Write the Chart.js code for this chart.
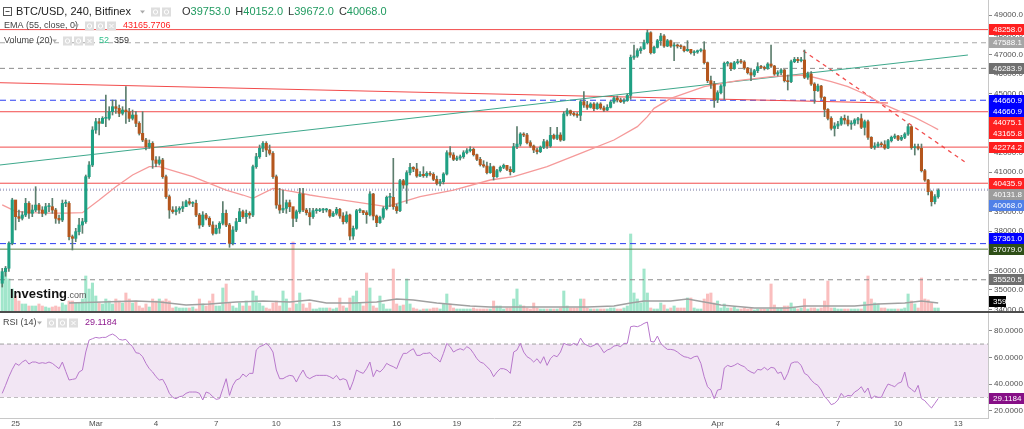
<!DOCTYPE html>
<html>
<head>
<meta charset="utf-8">
<title>BTC/USD, 240, Bitfinex</title>
<script src="https://cdn.jsdelivr.net/npm/chart.js@4.4.1/dist/chart.umd.min.js"></script>
<style>
    html, body { margin: 0; padding: 0; background: #ffffff; }
    #wrap { position: relative; width: 1024px; height: 429px; overflow: hidden; background: #ffffff; }
    #priceChart { position: absolute; left: 0; top: 0; }
    #rsiChart { position: absolute; left: 0; top: 311px; }
</style>
</head>
<body>
<div id="wrap">
    <canvas id="priceChart" width="1024" height="311"></canvas>
    <canvas id="rsiChart" width="1024" height="118"></canvas>
</div>
<script>
const FONT = '"Liberation Sans", Arial, sans-serif';

// x axis: one step per 4h candle, labels on day starts
const dayTickIndex = [4, 28, 46, 64, 82, 100, 118, 136, 154, 172, 190, 214, 232, 250, 268, 286];
const dayTickLabels = ['25', 'Mar', '4', '7', '10', '13', '16', '19', '22', '25', '28', 'Apr', '4', '7', '10', '13'];

// candles (4h), open of each candle = previous close
const firstOpen = 35343;
const closes = [
    35933, 36107, 37380, 39583, 38733, 38648, 38818, 39411, 38903, 39072,
    39326, 39072, 38903, 39242, 39242, 39072, 38648, 38563, 39411, 39411,
    37714, 37630, 37969, 38308, 38478, 40769, 41363, 43145, 43569, 43484,
    43739, 43739, 44078, 44333, 44248, 43994, 44163, 44078, 43739, 43909,
    43484, 42975, 42636, 42296, 42466, 41618, 41448, 41618, 40769, 39751,
    39072, 38988, 39072, 39157, 39242, 39496, 39411, 39411, 38818, 38308,
    38818, 38648, 38308, 37884, 38139, 38393, 38903, 38308, 37375, 38054,
    38478, 38988, 38733, 38903, 38818, 41278, 41788, 42212, 42466, 42127,
    41957, 40769, 39326, 39072, 39157, 39446, 39242, 38648, 38988, 39887,
    39072, 38937, 38733, 39038, 39038, 39072, 39072, 39072, 38767, 38903,
    39106, 38767, 38478, 38818, 37748, 38139, 39038, 39038, 38937, 38835,
    39887, 38767, 38427, 38699, 39140, 39717, 39717, 39242, 39038, 40566,
    40345, 40973, 41244, 41159, 40803, 40888, 40820, 40939, 40888, 40633,
    40430, 40515, 40905, 41991, 41872, 41652, 41720, 41788, 41991, 42093,
    42161, 41889, 41652, 41380, 41312, 40973, 41278, 40769, 41075, 41244,
    41346, 41142, 41024, 42296, 42432, 42941, 42890, 42500, 42330, 42127,
    42042, 42263, 42551, 42330, 42873, 42721, 42890, 42636, 43960, 44129,
    43994, 43926, 43892, 44587, 44418, 44299, 44469, 44231, 44469, 44265,
    44163, 44299, 44570, 44774, 44672, 44587, 44638, 44910, 46844, 46912,
    47184, 47286, 47591, 48100, 47082, 47353, 47693, 47930, 47421, 47693,
    47421, 47472, 47421, 47387, 47184, 47252, 47082, 47116, 47184, 47218,
    46573, 45656, 45487, 44672, 45046, 45385, 46539, 46539, 46267, 46573,
    46624, 46607, 46301, 46064, 45945, 46166, 46369, 46335, 46284, 46505,
    46403, 45996, 46064, 46200, 45656, 45606, 46624, 46743, 46675, 46709,
    45826, 45996, 45487, 45147, 45385, 44808, 44197, 43739, 43230, 43348,
    43450, 43739, 43654, 43450, 43484, 43654, 43722, 43281, 43569, 42772,
    42263, 42330, 42432, 42398, 42229, 42602, 42772, 42839, 42670, 42772,
    42941, 43315, 42245, 42296, 42212, 41075, 40600, 40006, 39496, 39753,
    40068
];
const highs = [
    36100, 36200, 37450, 39670, 39500, 39072, 38988, 39666, 39496, 39326,
    40260, 39411, 39242, 39411, 39411, 39666, 39157, 38818, 39581, 39581,
    39496, 37799, 38139, 38648, 38648, 40854, 41533, 43315, 43739, 43739,
    43824, 44927, 44333, 44672, 44672, 44418, 44333, 45351, 44248, 44163,
    44078, 43569, 44078, 42721, 42636, 42551, 41788, 41788, 41703, 40854,
    39836, 39242, 39242, 39242, 39496, 39581, 39666, 39496, 39581, 38903,
    38988, 38903, 38733, 38478, 38308, 38478, 39496, 39072, 38393, 38224,
    38648, 39157, 39072, 39072, 38988, 41363, 41957, 42381, 42551, 42551,
    42381, 42042, 40854, 40175, 40090, 39581, 39581, 39157, 39072, 40175,
    40175, 39157, 39157, 39157, 39157, 39157, 39157, 39157, 39106, 38988,
    39208, 39157, 38937, 38988, 38868, 38258, 39106, 39140, 39038, 39038,
    40006, 39921, 38818, 38767, 39242, 39785, 39921, 41703, 39377, 40633,
    40633, 41075, 41448, 41278, 41448, 41024, 41278, 41024, 41024, 40973,
    40803, 40633, 40973, 42093, 42296, 41991, 41821, 41872, 42093, 42195,
    42296, 42229, 41923, 41754, 41584, 41516, 41448, 41312, 41142, 41312,
    41414, 41346, 41278, 42466, 43315, 43009, 43009, 42975, 42602, 42381,
    42229, 42330, 42670, 42636, 43281, 42941, 43281, 43009, 44078, 44231,
    44163, 44061, 44027, 44672, 45096, 44604, 44536, 44536, 44536, 44536,
    44367, 44435, 44638, 44842, 44876, 44774, 44740, 44978, 46963, 47472,
    47286, 47387, 47727, 48236, 48150, 47421, 47761, 48066, 47998, 47761,
    47727, 47591, 47523, 47489, 47421, 47693, 47252, 47184, 47218, 47286,
    47642, 46607, 45894, 45623, 45147, 45453, 46607, 46641, 46573, 46641,
    46743, 46743, 46675, 46335, 46233, 46233, 46573, 46437, 46403, 46573,
    47472, 46437, 46166, 46267, 46233, 45945, 46709, 46844, 46844, 46844,
    47218, 46098, 46115, 45555, 45487, 45419, 44842, 44231, 43824, 43518,
    43586, 43824, 43909, 43858, 43620, 43722, 43790, 43960, 43654, 43654,
    42806, 42500, 42534, 42534, 42602, 42670, 42839, 42941, 42873, 42873,
    43009, 43450, 43348, 42432, 42432, 42432, 41142, 40633, 40056, 39853,
    40152
];
const lows = [
    35150, 35700, 35950, 37300, 38057, 38478, 38563, 38733, 38648, 38733,
    38988, 38903, 38733, 38818, 38988, 38903, 38393, 38393, 38478, 39242,
    37545, 37036, 37460, 37799, 37884, 38393, 40684, 41278, 42975, 42890,
    43484, 43315, 43654, 43909, 43994, 43824, 43909, 43484, 43569, 43654,
    43315, 42890, 42551, 42127, 42212, 41193, 41278, 41363, 40684, 39666,
    38648, 38903, 38818, 38903, 38988, 39242, 39326, 39242, 38733, 38139,
    38224, 38563, 38224, 37799, 37850, 37884, 38308, 38224, 37171, 37290,
    37969, 38478, 38648, 38393, 38648, 38733, 41193, 41703, 42042, 41788,
    41872, 40684, 39157, 38903, 38937, 38903, 38988, 38224, 38478, 38903,
    38988, 38818, 38308, 38648, 38903, 38988, 38937, 38971, 38699, 38733,
    38818, 38648, 38359, 38400, 37545, 37579, 38088, 38937, 38835, 38393,
    38767, 38563, 38224, 38393, 38597, 39072, 39242, 39106, 38903, 38988,
    40175, 39411, 40854, 41024, 40735, 40769, 40735, 40735, 40803, 40566,
    40345, 40294, 40396, 40854, 41754, 41584, 41584, 41618, 41703, 41923,
    42025, 41821, 41584, 41312, 41244, 40905, 40939, 40600, 40735, 41007,
    41176, 41075, 40854, 40973, 42195, 42330, 42806, 42432, 42263, 41991,
    41923, 41991, 42195, 42212, 42263, 42670, 42650, 42568, 42600, 43858,
    43892, 43858, 43790, 43620, 44299, 44197, 44265, 44129, 44197, 44197,
    44095, 44129, 44265, 44503, 44570, 44536, 44503, 44604, 44706, 46743,
    46844, 47048, 47252, 47523, 47014, 47048, 47320, 47455, 47353, 47387,
    47353, 46675, 47320, 47286, 47116, 47150, 47014, 46946, 47048, 47116,
    46505, 45555, 45266, 44299, 44536, 44978, 44706, 46403, 46166, 46233,
    46505, 46539, 46233, 45996, 45656, 45860, 46064, 46267, 46200, 46233,
    46335, 45928, 45894, 45962, 45589, 45181, 45555, 46573, 46573, 46607,
    45758, 45724, 45419, 44503, 45113, 44706, 43824, 43654, 43145, 42839,
    43213, 43382, 43450, 43348, 43179, 43382, 43450, 43213, 42890, 42670,
    42195, 42161, 42263, 42296, 42161, 42195, 42534, 42704, 42602, 42602,
    42704, 42873, 42161, 41872, 42127, 41007, 40532, 39836, 39276, 39377,
    39672
];
const volumes = [
    4200, 4800, 3840, 2640, 1800, 1200, 840, 840, 600, 600,
    600, 840, 600, 480, 360, 480, 600, 480, 960, 720,
    1200, 1200, 960, 960, 1440, 4200, 2640, 3360, 1800, 960,
    840, 1440, 1200, 840, 1440, 1200, 960, 2160, 1440, 960,
    1200, 600, 360, 840, 480, 1440, 1200, 1440, 1200, 1440,
    1200, 360, 480, 360, 360, 360, 360, 480, 240, 1440,
    840, 600, 1200, 2040, 600, 600, 2760, 3240, 960, 600,
    360, 960, 600, 1200, 600, 2400, 1800, 960, 600, 360,
    240, 960, 1200, 600, 2400, 1440, 360, 8280, 840, 2160,
    840, 360, 960, 240, 240, 360, 360, 360, 360, 240,
    360, 1560, 600, 360, 1560, 1800, 2400, 960, 600, 4560,
    2760, 600, 360, 1800, 840, 240, 240, 5040, 840, 600,
    720, 3840, 840, 360, 240, 120, 240, 240, 240, 360,
    360, 240, 840, 2040, 840, 360, 240, 240, 240, 240,
    240, 360, 240, 240, 240, 240, 240, 1200, 600, 600,
    240, 360, 360, 1440, 2640, 720, 600, 360, 240, 960,
    360, 240, 240, 240, 240, 240, 240, 360, 2400, 600,
    360, 360, 360, 1440, 1440, 360, 240, 240, 240, 240,
    240, 240, 360, 360, 240, 240, 360, 600, 9240, 2160,
    1440, 960, 5040, 2160, 360, 240, 240, 960, 720, 240,
    360, 600, 360, 360, 360, 1560, 1560, 360, 240, 240,
    1440, 2040, 2160, 960, 1200, 360, 840, 360, 360, 480,
    240, 240, 360, 240, 360, 120, 240, 240, 240, 240,
    3240, 720, 360, 360, 600, 600, 960, 360, 240, 360,
    1440, 240, 360, 360, 240, 360, 1200, 3600, 360, 360,
    240, 240, 240, 240, 240, 240, 240, 240, 1080, 4200,
    1440, 960, 840, 360, 360, 240, 240, 240, 240, 240,
    360, 2040, 1200, 840, 360, 3960, 1440, 1320, 960, 360,
    359
];

// Volume MA(20), read at a few candles
const volMaIndex = [20, 30, 40, 47, 55, 62, 70, 78, 86, 92, 97, 105, 112, 118, 123, 130, 140, 146, 155, 165,
    175, 183, 188, 192, 200, 205, 210, 215, 225, 235, 240, 245, 255, 262, 270, 275, 280];
const volMaValues = [960, 1080, 1200, 1080, 720, 840, 1080, 1200, 1080, 1320, 960, 960, 1080, 1440, 1320, 960, 600, 480, 480, 480,
    480, 600, 960, 1200, 1200, 1440, 1080, 720, 360, 360, 600, 600, 600, 840, 960, 1200, 960];

// EMA(55, close)
const emaIndex = [0, 4, 9, 14, 19, 24, 29, 34, 39, 44, 47, 52, 57, 62, 67, 72, 75, 81, 87, 92,
    95, 105, 115, 120, 125, 135, 146, 153, 163, 173, 183, 190, 193, 195, 200, 210, 220, 230, 240, 248,
    253, 258, 263, 268, 273, 278, 280];
const emaValues = [39330, 39000, 38936, 38910, 38910, 38936, 39581, 40260, 40854, 41278, 41278, 41024, 40769, 40430, 40090, 39836, 39666, 40175, 40005, 39836,
    39751, 39496, 39242, 39496, 39751, 40090, 40600, 40769, 41278, 41957, 42636, 43315, 43824, 44248, 44757, 45351, 45656, 45860, 45945, 45605,
    45351, 44978, 44503, 44129, 43790, 43349, 43165.7706];

// RSI(14)
const rsiValues = [
    33, 39, 45.5, 51, 55.5, 54, 56.5, 58, 55, 56.5,
    56.5, 55.5, 56, 55.5, 56.5, 55.5, 53.5, 51.5, 56.5, 49.5,
    43, 43.5, 44, 49, 50.5, 64, 73, 74, 75, 74.5,
    75, 75, 76.5, 77.5, 76, 73.5, 73, 73.5, 70.5, 68,
    63.5, 63, 60.5, 55.5, 51.5, 49, 45.5, 43, 43.5, 39,
    33, 30, 29, 30.5, 31, 33, 34, 34, 34, 33,
    28, 34, 33, 30.5, 28.5, 29, 36.5, 44, 31.5, 39,
    43, 44, 47.5, 45.5, 48, 48, 65.5, 68, 69, 70.5,
    68, 64, 50.5, 44, 44, 45.5, 46.5, 46, 41.5, 46.5,
    50.5, 45.5, 44, 45.5, 46.5, 46.5, 46.5, 46.5, 45.5, 44,
    46.5, 43, 44, 43, 35.5, 42, 50.5, 49, 48, 51.5,
    56.5, 45.5, 50.5, 49, 51.5, 55.5, 54, 53, 51.5, 58,
    63, 63, 65, 66.5, 61.5, 61.5, 63, 63, 63.5, 60.5,
    59, 56.5, 63, 70.5, 68, 64, 65.5, 66.5, 65.5, 68,
    66.5, 63, 59, 56.5, 55.5, 53, 50.5, 45.5, 49, 51.5,
    51.5, 50.5, 48, 64, 65.5, 70.5, 64, 60.5, 59, 56.5,
    59, 55.5, 60.5, 54, 59, 61.5, 60.5, 64, 70.5, 69.5,
    69, 70.5, 69, 74.5, 70.5, 69, 68, 69, 70.5, 67.5,
    63.5, 65.5, 66.5, 68.5, 69, 68, 70.5, 70.5, 83, 83.5,
    83, 84, 85.5, 86.5, 72, 71.5, 76, 70.5, 68, 66,
    66, 65.5, 64, 62, 60.5, 60, 59, 60.5, 61, 55.5,
    45.5, 38, 35.5, 29, 35.5, 36, 52, 54, 53, 54,
    55.5, 54, 53, 50.5, 49, 48, 51, 50.5, 52.5, 50.5,
    52.5, 52, 48, 49, 43, 48, 55.5, 56.5, 56.5, 54,
    48, 46.5, 43, 40.5, 39, 35.5, 30.5, 28, 24.5, 25.5,
    28, 33, 30, 31.5, 31, 34, 35.5, 38, 33.5, 37,
    29, 31, 30, 30, 35.5, 40, 39, 38, 40.5, 41.5,
    49, 38, 36, 34, 39, 29, 27.5, 24.5, 22, 25.5,
    29.1184
];

// drawn levels and trend lines
const levelValues = [48258.0, 47588.1, 46283.9, 44660.9, 44075.1, 42274.2, 40435.9, 40131.8, 40068.0, 37361.0, 37079.0, 35520.5];
const trendUpIndex = [-0.66, 288.9];
const trendUpValues = [41365, 46964];
const trendDownIndex = [-0.66, 265];
const trendDownValues = [45554, 44521];
const trendDashIndex = [239.6, 287.9];
const trendDashValues = [47183, 41533];

// price tags on the right axis
const tagValues = [48258.0, 47588.1, 46283.9, 44660.9, 44660.9, 44075.1, 43165.8, 42274.2, 40435.9, 40131.8, 40068.0, 37361.0, 37079.0, 35520.5];
const priceTicks = [34000, 35000, 36000, 37000, 38000, 39000, 40000, 41000, 42000, 43000, 44000, 45000, 46000, 47000, 48000, 49000];
const rsiTicks = [20, 40, 60, 80];

const X_MIN = -0.66, X_MAX = 294.9;
const PRICE_MIN = 33930, PRICE_MAX = 49765;
const VOL_MAX = 37320;
const RSI_MIN = 14.5, RSI_MAX = 93.3;

const colors = {
    up: '#1fa083',
    down: '#b4561d',
    wick: '#5d7e6e',
    volUp: 'rgba(46, 200, 140, 0.45)',
    volDown: 'rgba(245, 110, 110, 0.45)',
    volMa: '#a0a0a0',
    ema: '#f59a9a',
    red: '#f24b4b',
    teal: '#3ea88c',
    rsi: '#b878cc',
    band: '#f2e6f4'
};
const levelStyles = [
    { color: colors.red, dash: [] },
    { color: '#a8a8a8', dash: [5, 4] },
    { color: '#8c8c8c', dash: [5, 4] },
    { color: '#2b3df2', dash: [6, 4] },
    { color: colors.red, dash: [] },
    { color: colors.red, dash: [] },
    { color: colors.red, dash: [] },
    { color: '#8a93cc', dash: [1, 2] },
    { color: '#b4b4c8', dash: [1, 2] },
    { color: '#2b3df2', dash: [6, 4] },
    { color: '#5e7f45', dash: [] },
    { color: '#8c8c8c', dash: [5, 4] }
];
const tagColors = ['#ff1f1f', '#a6a6a6', '#6f6f6f', '#0000ff', '#0000ff', '#ff1f1f', '#ff1f1f', '#ff1f1f',
    '#ff1f1f', '#9c9c9c', '#4f80e8', '#0000ff', '#2e4f17', '#6f6f6f'];

const opens = [firstOpen].concat(closes.slice(0, -1));
const idx = closes.map((_, i) => i);
const isUp = idx.map(i => closes[i] >= opens[i]);

function lineSet(xs, ys, color, width, dash, order, axis) {
    return {
        type: 'line',
        data: xs.map((x, i) => ({ x: x, y: ys[i] })),
        borderColor: color,
        borderWidth: width,
        borderDash: dash || [],
        pointRadius: 0,
        fill: false,
        tension: 0,
        order: order,
        yAxisID: axis || 'y'
    };
}

function triangle(ctx, x, y, color) {
    ctx.fillStyle = color;
    ctx.beginPath();
    ctx.moveTo(x, y - 1.5);
    ctx.lineTo(x + 5, y - 1.5);
    ctx.lineTo(x + 2.5, y + 1.5);
    ctx.closePath();
    ctx.fill();
}

function drawIcons(ctx, x, y, n) {
    for (let i = 0; i < n; i++) {
        const left = x + i * 11;
        ctx.fillStyle = '#dedede';
        ctx.fillRect(left, y - 4.5, 9, 9);
        ctx.strokeStyle = '#ffffff';
        ctx.lineWidth = 1;
        ctx.beginPath();
        if (i === n - 1 && n === 3) {
            ctx.moveTo(left + 2.5, y - 2); ctx.lineTo(left + 6.5, y + 2);
            ctx.moveTo(left + 6.5, y - 2); ctx.lineTo(left + 2.5, y + 2);
        } else {
            ctx.arc(left + 4.5, y, 2.2, 0, Math.PI * 2);
        }
        ctx.stroke();
    }
}

function drawTag(ctx, x, yc, w, text, bg) {
    ctx.fillStyle = bg;
    ctx.fillRect(x, Math.round(yc - 5.5), w, 11);
    ctx.fillStyle = '#ffffff';
    ctx.font = '8px ' + FONT;
    ctx.textAlign = 'left';
    ctx.textBaseline = 'middle';
    ctx.fillText(text, x + 4, Math.round(yc - 5.5) + 6);
}

const headerPlugin = {
    id: 'header',
    afterDraw(chart) {
        const ctx = chart.ctx;
        const last = closes.length - 1;
        ctx.save();
        ctx.textBaseline = 'middle';
        ctx.textAlign = 'left';

        // symbol line
        ctx.strokeStyle = '#555555';
        ctx.lineWidth = 1;
        ctx.strokeRect(3.5, 7.5, 8, 8);
        ctx.beginPath(); ctx.moveTo(5.5, 11.5); ctx.lineTo(9.5, 11.5); ctx.stroke();
        ctx.fillStyle = '#222222';
        ctx.font = '11px ' + FONT;
        ctx.fillText('BTC/USD, 240, Bitfinex', 16, 12);
        triangle(ctx, 140, 12, '#aaaaaa');
        drawIcons(ctx, 151, 12, 2);
        const ohlc = [['O', opens[last]], ['H', highs[last]], ['L', lows[last]], ['C', closes[last]]];
        let x = 182;
        ohlc.forEach(([label, value]) => {
            ctx.fillStyle = '#333333';
            ctx.fillText(label, x, 12);
            x += ctx.measureText(label).width;
            const t = value.toFixed(1);
            ctx.fillStyle = '#1f9a5f';
            ctx.fillText(t, x, 12);
            x += ctx.measureText(t).width + 5;
        });

        // indicator lines
        ctx.font = '9px ' + FONT;
        ctx.fillStyle = '#444444';
        ctx.fillText('EMA (55, close, 0)', 4, 26);
        triangle(ctx, 74, 26, '#aaaaaa');
        drawIcons(ctx, 85, 26, 3);
        ctx.fillStyle = '#ff1f1f';
        ctx.fillText(emaValues[emaValues.length - 1].toFixed(4), 123, 26);

        ctx.fillStyle = '#444444';
        ctx.fillText('Volume (20)', 4, 41);
        triangle(ctx, 52, 41, '#aaaaaa');
        drawIcons(ctx, 63, 41, 3);
        ctx.fillStyle = '#2fbf8a';
        ctx.fillText('52', 99, 41);
        ctx.fillStyle = '#333333';
        ctx.fillText(String(volumes[last]), 114, 41);

        // watermark
        ctx.fillStyle = '#111111';
        ctx.font = 'bold 13px ' + FONT;
        ctx.fillText('Investing', 10, 294);
        const w = ctx.measureText('Investing').width;
        ctx.fillStyle = '#555555';
        ctx.font = '9px ' + FONT;
        ctx.fillText('.com', 10 + w, 296);
        ctx.restore();
    }
};

const tagPlugin = {
    id: 'tags',
    afterDraw(chart) {
        const ctx = chart.ctx;
        const yScale = chart.scales.y;
        const area = chart.chartArea;
        const lastPrice = closes[closes.length - 1];
        const h = 11;
        const items = tagValues.map((v, i) => ({ v: v, color: tagColors[i], py: yScale.getPixelForValue(v) }));
        // keep tags from overlapping: push down above the last price, up below it
        const above = items.filter(t => t.v >= lastPrice).sort((a, b) => a.py - b.py);
        for (let i = 1; i < above.length; i++) {
            if (above[i].py < above[i - 1].py + h) above[i].py = above[i - 1].py + h;
        }
        const below = items.filter(t => t.v < lastPrice).sort((a, b) => b.py - a.py);
        for (let i = 1; i < below.length; i++) {
            if (below[i].py > below[i - 1].py - h) below[i].py = below[i - 1].py - h;
        }
        ctx.save();
        const x = area.right + 1;
        const w = chart.width - x;
        items.forEach(t => drawTag(ctx, x, t.py, w, t.v.toFixed(1), t.color));
        const volY = Math.min(chart.scales.yVol.getPixelForValue(volumes[volumes.length - 1]), area.bottom - 10);
        drawTag(ctx, x, volY, 17, String(volumes[volumes.length - 1]), '#000000');
        ctx.restore();
    }
};

const rsiHeaderPlugin = {
    id: 'rsiHeader',
    afterDraw(chart) {
        const ctx = chart.ctx;
        ctx.save();
        ctx.fillStyle = '#4d4d4d';
        ctx.fillRect(0, 0, chart.width, 2);
        ctx.textBaseline = 'middle';
        ctx.textAlign = 'left';
        ctx.font = '9px ' + FONT;
        ctx.fillStyle = '#444444';
        ctx.fillText('RSI (14)', 3, 12);
        triangle(ctx, 37, 12, '#aaaaaa');
        drawIcons(ctx, 47, 12, 3);
        ctx.fillStyle = '#8e1a8e';
        const last = rsiValues[rsiValues.length - 1];
        ctx.fillText(last.toFixed(4), 85, 12);
        const area = chart.chartArea;
        drawTag(ctx, area.right + 1, chart.scales.y.getPixelForValue(last), chart.width - area.right - 1, last.toFixed(4), '#860f86');
        ctx.restore();
    }
};

// ---- price panel ----
const priceDatasets = [
    {
        type: 'bar',
        data: idx.map(i => ({ x: i, y: [opens[i], closes[i]] })),
        backgroundColor: idx.map(i => isUp[i] ? colors.up : colors.down),
        barThickness: 2.4,
        minBarLength: 1,
        grouped: false,
        order: 0,
        yAxisID: 'y'
    },
    {
        type: 'bar',
        data: idx.map(i => ({ x: i, y: [lows[i], highs[i]] })),
        backgroundColor: colors.wick,
        barThickness: 1,
        grouped: false,
        order: 1,
        yAxisID: 'y'
    },
    lineSet(emaIndex, emaValues, colors.ema, 1.3, [], 2),
    lineSet(trendUpIndex, trendUpValues, colors.teal, 1, [], 2),
    lineSet(trendDownIndex, trendDownValues, colors.red, 1, [], 2),
    lineSet(trendDashIndex, trendDashValues, colors.red, 1.3, [4, 4], 2)
];
levelValues.forEach((v, i) => {
    priceDatasets.push(lineSet([X_MIN, X_MAX], [v, v], levelStyles[i].color, 1, levelStyles[i].dash, 3));
});
priceDatasets.push(lineSet(volMaIndex, volMaValues, colors.volMa, 1.3, [], 4, 'yVol'));
priceDatasets.push({
    type: 'bar',
    data: idx.map(i => ({ x: i, y: volumes[i] })),
    backgroundColor: idx.map(i => isUp[i] ? colors.volUp : colors.volDown),
    barThickness: 2.4,
    grouped: false,
    order: 5,
    yAxisID: 'yVol'
});

new Chart(document.getElementById('priceChart'), {
    type: 'bar',
    data: { datasets: priceDatasets },
    options: {
        responsive: false,
        animation: false,
        devicePixelRatio: 1,
        layout: { padding: 0 },
        plugins: { legend: { display: false }, tooltip: { enabled: false } },
        scales: {
            x: { type: 'linear', min: X_MIN, max: X_MAX, display: false, offset: false },
            y: {
                type: 'linear',
                position: 'right',
                min: PRICE_MIN,
                max: PRICE_MAX,
                afterBuildTicks: s => { s.ticks = priceTicks.map(v => ({ value: v })); },
                afterFit: s => { s.width = 36; s.paddingTop = 0; s.paddingBottom = 0; },
                ticks: { callback: v => Number(v).toFixed(1), color: '#505050', font: { size: 8, family: FONT }, padding: 2 },
                grid: { drawOnChartArea: false, drawTicks: true, tickLength: 4, color: '#888888' },
                border: { color: '#c8c8c8' }
            },
            yVol: { type: 'linear', display: false, min: 0, max: VOL_MAX }
        }
    },
    plugins: [headerPlugin, tagPlugin]
});

// ---- RSI panel ----
new Chart(document.getElementById('rsiChart'), {
    type: 'line',
    data: {
        datasets: [
            Object.assign(lineSet([X_MIN, X_MAX], [70, 70], '#a0a0a0', 1, [4, 3], 2), { fill: '+1', backgroundColor: colors.band }),
            lineSet([X_MIN, X_MAX], [30, 30], '#a0a0a0', 1, [4, 3], 2),
            lineSet(idx, rsiValues, colors.rsi, 1, [], 1)
        ]
    },
    options: {
        responsive: false,
        animation: false,
        devicePixelRatio: 1,
        layout: { padding: { top: 2 } },
        plugins: { legend: { display: false }, tooltip: { enabled: false } },
        scales: {
            x: {
                type: 'linear',
                min: X_MIN,
                max: X_MAX,
                offset: false,
                afterBuildTicks: s => { s.ticks = dayTickIndex.map(v => ({ value: v })); },
                afterFit: s => { s.height = 11; s.paddingLeft = 0; s.paddingRight = 0; },
                ticks: { callback: (v, i) => dayTickLabels[i], autoSkip: false, maxRotation: 0, color: '#505050', font: { size: 8, family: FONT }, padding: 1 },
                grid: { drawOnChartArea: false, drawTicks: false },
                border: { color: '#c8c8c8' }
            },
            y: {
                type: 'linear',
                position: 'right',
                min: RSI_MIN,
                max: RSI_MAX,
                afterBuildTicks: s => { s.ticks = rsiTicks.map(v => ({ value: v })); },
                afterFit: s => { s.width = 36; s.paddingTop = 0; s.paddingBottom = 0; },
                ticks: { callback: v => Number(v).toFixed(4), color: '#505050', font: { size: 8, family: FONT }, padding: 2 },
                grid: { drawOnChartArea: false, drawTicks: true, tickLength: 4, color: '#888888' },
                border: { color: '#c8c8c8' }
            }
        }
    },
    plugins: [rsiHeaderPlugin]
});
</script>
</body>
</html>
